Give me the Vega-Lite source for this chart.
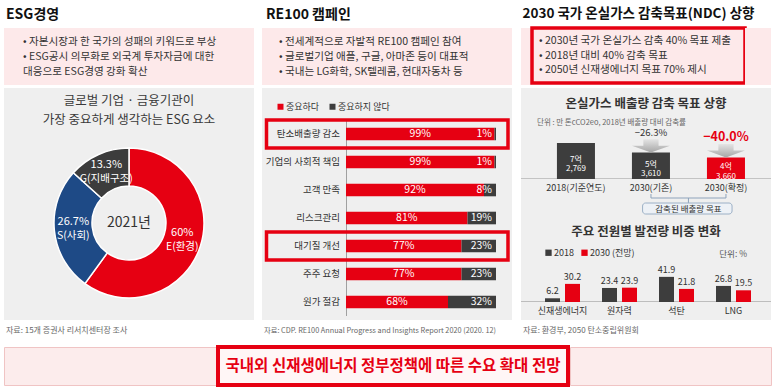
{
  "$schema": "https://vega.github.io/schema/vega-lite/v6.json",
  "background": "#ffffff",
  "padding": {"left": 3, "top": 6, "right": 0, "bottom": 0},
  "config": {
    "font": "Noto Sans CJK KR",
    "view": {"stroke": null},
    "text": {"font": "Noto Sans CJK KR"},
    "title": {"font": "Noto Sans CJK KR"},
    "legend": {"labelFont": "Noto Sans CJK KR"}
  },
  "datasets": {
    "esg": [
      {"k": "E(환경)", "v": 0.6, "o": 1},
      {"k": "S(사회)", "v": 0.267, "o": 2},
      {"k": "G(지배구조)", "v": 0.133, "o": 3}
    ],
    "re100": [
      {"cat": "탄소배출량 감소", "type": "중요하다", "v": 0.99},
      {"cat": "탄소배출량 감소", "type": "중요하지 않다", "v": 0.01},
      {"cat": "기업의 사회적 책임", "type": "중요하다", "v": 0.99},
      {"cat": "기업의 사회적 책임", "type": "중요하지 않다", "v": 0.01},
      {"cat": "고객 만족", "type": "중요하다", "v": 0.92},
      {"cat": "고객 만족", "type": "중요하지 않다", "v": 0.08},
      {"cat": "리스크관리", "type": "중요하다", "v": 0.81},
      {"cat": "리스크관리", "type": "중요하지 않다", "v": 0.19},
      {"cat": "대기질 개선", "type": "중요하다", "v": 0.77},
      {"cat": "대기질 개선", "type": "중요하지 않다", "v": 0.23},
      {"cat": "주주 요청", "type": "중요하다", "v": 0.77},
      {"cat": "주주 요청", "type": "중요하지 않다", "v": 0.23},
      {"cat": "원가 절감", "type": "중요하다", "v": 0.68},
      {"cat": "원가 절감", "type": "중요하지 않다", "v": 0.32}
    ],
    "ndc": [
      {"year": "2018(기준연도)", "v": 72769, "label": "7억\n2,769"},
      {"year": "2030(기존)", "v": 53610, "label": "5억\n3,610", "chg": -0.263},
      {"year": "2030(확정)", "v": 43660, "label": "4억\n3,660", "chg": -0.4}
    ],
    "mix": [
      {"src": "신재생에너지", "yr": "2018", "v": 6.2},
      {"src": "신재생에너지", "yr": "2030 (전망)", "v": 30.2},
      {"src": "원자력", "yr": "2018", "v": 23.4},
      {"src": "원자력", "yr": "2030 (전망)", "v": 23.9},
      {"src": "석탄", "yr": "2018", "v": 41.9},
      {"src": "석탄", "yr": "2030 (전망)", "v": 21.8},
      {"src": "LNG", "yr": "2018", "v": 26.8},
      {"src": "LNG", "yr": "2030 (전망)", "v": 19.5}
    ]
  },
  "spacing": 6,
  "resolve": {"scale": {"color": "independent", "x": "independent", "y": "independent", "theta": "independent", "xOffset": "independent"}, "legend": {"color": "independent"}},
  "vconcat": [
    {
      "spacing": 8,
      "resolve": {"scale": {"color": "independent", "x": "independent", "y": "independent", "theta": "independent", "xOffset": "independent"}, "legend": {"color": "independent"}},
      "hconcat": [
        {
          "title": {"text": "ESG경영", "anchor": "start", "fontSize": 14, "fontWeight": "bold", "color": "#111111", "offset": 6, "dx": 2},
          "spacing": 3,
          "resolve": {"scale": {"color": "independent", "x": "independent", "y": "independent", "theta": "independent"}, "legend": {"color": "independent"}},
          "vconcat": [
            {
              "width": 250, "height": 57,
              "view": {"fill": "#fde9ea", "stroke": null},
              "data": {"values": [
                {"n": 1, "t": "• 자본시장과 한 국가의 성패의 키워드로 부상"},
                {"n": 2, "t": "• ESG공시 의무화로 외국계 투자자금에 대한"},
                {"n": 3, "t": "\u00a0\u00a0\u00a0대응으로 ESG경영 강화 확산"}
              ]},
              "mark": {"type": "text", "align": "left", "fontSize": 10.6, "color": "#333333"},
              "encoding": {
                "x": {"value": 19},
                "y": {"field": "n", "type": "ordinal", "axis": null, "scale": {"type": "point", "padding": 0.9}},
                "text": {"field": "t"}
              }
            },
            {
              "spacing": 0,
              "bounds": "flush",
              "resolve": {"scale": {"color": "independent", "x": "independent", "y": "independent", "theta": "independent"}, "legend": {"color": "independent"}},
              "vconcat": [
                {
                  "width": 250, "height": 38,
                  "view": {"fill": "#efefef", "stroke": null},
                  "data": {"values": [
                    {"n": 1, "t": "글로벌 기업 · 금융기관이"},
                    {"n": 2, "t": "가장 중요하게 생각하는 ESG 요소"}
                  ]},
                  "mark": {"type": "text", "fontSize": 12.5, "color": "#3a3a3a"},
                  "encoding": {
                    "y": {"field": "n", "type": "ordinal", "axis": null, "scale": {"type": "point", "padding": 0.5, "align": 0.684}},
                    "text": {"field": "t"}
                  }
                },
                {
                  "width": 250, "height": 194,
                  "view": {"fill": "#efefef", "stroke": null},
                  "layer": [
                    {
                      "data": {"name": "esg"},
                      "mark": {"type": "arc", "radius": 75, "radius2": 37, "stroke": "#ffffff", "strokeWidth": 1.5},
                      "encoding": {
                        "theta": {"field": "v", "type": "quantitative", "stack": true},
                        "order": {"field": "o", "type": "quantitative"},
                        "color": {"field": "k", "type": "nominal", "legend": null,
                          "scale": {"domain": ["E(환경)", "S(사회)", "G(지배구조)"], "range": ["#e60012", "#1e4a86", "#3c3c3c"]}}
                      }
                    },
                    {
                      "data": {"name": "esg"},
                      "mark": {"type": "text", "radius": 56, "dy": -7, "fontSize": 11, "color": "#ffffff"},
                      "encoding": {
                        "theta": {"field": "v", "type": "quantitative", "stack": true},
                        "order": {"field": "o", "type": "quantitative"},
                        "detail": {"field": "k"},
                        "text": {"field": "v", "type": "quantitative", "format": ".1~%"}
                      }
                    },
                    {
                      "data": {"name": "esg"},
                      "mark": {"type": "text", "radius": 56, "dy": 7, "fontSize": 10.5, "color": "#ffffff"},
                      "encoding": {
                        "theta": {"field": "v", "type": "quantitative", "stack": true},
                        "order": {"field": "o", "type": "quantitative"},
                        "detail": {"field": "k"},
                        "text": {"field": "k"}
                      }
                    },
                    {
                      "data": {"values": [{"yr": "2021년"}]},
                      "mark": {"type": "text", "fontSize": 14, "color": "#333333"},
                      "encoding": {"text": {"field": "yr"}}
                    }
                  ]
                }
              ]
            },
            {
              "width": 250, "height": 16,
              "data": {"values": [{"t": "자료: 15개 증권사 리서치센터장 조사"}]},
              "mark": {"type": "text", "align": "left", "fontSize": 8, "color": "#666666"},
              "encoding": {"x": {"value": 2}, "text": {"field": "t"}}
            }
          ]
        },
        {
          "title": {"text": "RE100 캠페인", "anchor": "start", "fontSize": 14, "fontWeight": "bold", "color": "#111111", "offset": 6, "dx": 4},
          "spacing": 3,
          "resolve": {"scale": {"color": "independent", "x": "independent", "y": "independent"}, "legend": {"color": "independent"}},
          "vconcat": [
            {
              "width": 250, "height": 57,
              "view": {"fill": "#fde9ea", "stroke": null},
              "data": {"values": [
                {"n": 1, "t": "• 전세계적으로 자발적 RE100 캠페인 참여"},
                {"n": 2, "t": "• 글로벌기업 애플, 구글, 아마존 등이 대표적"},
                {"n": 3, "t": "• 국내는 LG화학, SK텔레콤, 현대자동차 등"}
              ]},
              "mark": {"type": "text", "align": "left", "fontSize": 10.6, "color": "#333333"},
              "encoding": {
                "x": {"value": 17},
                "y": {"field": "n", "type": "ordinal", "axis": null, "scale": {"type": "point", "padding": 0.9}},
                "text": {"field": "t"}
              }
            },
            {
              "width": 250, "height": 232,
              "view": {"fill": "#efefef", "stroke": null},
              "data": {"name": "re100"},
              "encoding": {
                "y": {"field": "cat", "type": "nominal", "axis": null, "sort": null,
                  "scale": {"domain": ["탄소배출량 감소", "기업의 사회적 책임", "고객 만족", "리스크관리", "대기질 개선", "주주 요청", "원가 절감"],
                    "paddingInner": 0, "paddingOuter": 0.643, "align": 0.889}}
              },
              "layer": [
                {
                  "transform": [{"filter": "datum.type === '중요하다'"}],
                  "mark": {"type": "rect", "color": "#a0a0a0"},
                  "encoding": {
                    "x": {"datum": 0, "type": "quantitative", "axis": null, "scale": {"domain": [-0.56, 1.1067], "nice": false, "zero": false}},
                    "x2": {"datum": 0.0067}
                  }
                },
                {
                  "mark": {"type": "bar", "height": {"band": 0.45}},
                  "encoding": {
                    "x": {"field": "v", "type": "quantitative", "stack": "zero", "axis": null},
                    "order": {"field": "type", "sort": "ascending"},
                    "color": {"field": "type", "type": "nominal",
                      "scale": {"domain": ["중요하다", "중요하지 않다"], "range": ["#e60012", "#3d3d3d"]},
                      "legend": {"orient": "top-left", "offset": 14, "padding": 0, "direction": "horizontal", "title": null,
                        "symbolType": "square", "symbolSize": 36, "symbolStrokeWidth": 0, "labelFontSize": 9, "labelColor": "#333333",
                        "columnPadding": 8, "labelOffset": 1}}
                  }
                },
                {
                  "transform": [{"filter": "datum.type === '중요하다' && (datum.cat === '탄소배출량 감소' || datum.cat === '대기질 개선')"}],
                  "mark": {"type": "rect", "filled": false, "stroke": "#e60012", "strokeWidth": 3.5},
                  "encoding": {
                    "x": {"datum": -0.53, "type": "quantitative"},
                    "x2": {"datum": 1.08}
                  }
                },
                {
                  "transform": [{"filter": "datum.type === '중요하다'"}],
                  "mark": {"type": "text", "color": "#ffffff", "fontSize": 10.5},
                  "encoding": {
                    "x": {"field": "v", "type": "quantitative", "stack": "zero", "bandPosition": 0.5},
                    "text": {"field": "v", "type": "quantitative", "format": ".0%"}
                  }
                },
                {
                  "transform": [{"filter": "datum.type === '중요하지 않다'"}],
                  "mark": {"type": "text", "color": "#ffffff", "fontSize": 10.5, "align": "right", "dx": -4},
                  "encoding": {
                    "x": {"datum": 1, "type": "quantitative"},
                    "text": {"field": "v", "type": "quantitative", "format": ".0%"}
                  }
                },
                {
                  "transform": [{"filter": "datum.type === '중요하다'"}],
                  "mark": {"type": "text", "color": "#333333", "fontSize": 9.5, "align": "right", "dx": -6},
                  "encoding": {
                    "x": {"datum": 0, "type": "quantitative"},
                    "text": {"field": "cat"}
                  }
                }
              ]
            },
            {
              "width": 250, "height": 16,
              "data": {"values": [{"t": "자료: CDP. RE100 Annual Progress and Insights Report 2020 (2020. 12)"}]},
              "mark": {"type": "text", "align": "left", "fontSize": 7.3, "color": "#666666"},
              "encoding": {"x": {"value": 2}, "text": {"field": "t"}}
            }
          ]
        },
        {
          "title": {"text": "2030 국가 온실가스 감축목표(NDC) 상향", "anchor": "start", "fontSize": 13.5, "fontWeight": "bold", "color": "#111111", "offset": 6, "dx": 2},
          "spacing": 3,
          "resolve": {"scale": {"color": "independent", "x": "independent", "y": "independent", "xOffset": "independent"}, "legend": {"color": "independent"}},
          "vconcat": [
            {
              "spacing": 0,
              "bounds": "flush",
              "hconcat": [
                {
                  "width": 11, "height": 57,
                  "view": {"fill": "#fde9ea", "stroke": null},
                  "data": {"values": [{}]},
                  "mark": {"type": "text", "text": " "}
                },
                {
                  "width": 213, "height": 55,
                  "view": {"fill": "#fde9ea", "stroke": "#e60012", "strokeWidth": 3.5},
                  "data": {"values": [
                    {"n": 1, "t": "• 2030년 국가 온실가스 감축 40% 목표 제출"},
                    {"n": 2, "t": "• 2018년 대비 40% 감축 목표"},
                    {"n": 3, "t": "• 2050년 신재생에너지 목표 70% 제시"}
                  ]},
                  "mark": {"type": "text", "align": "left", "fontSize": 10.6, "color": "#333333"},
                  "encoding": {
                    "x": {"value": 7},
                    "y": {"field": "n", "type": "ordinal", "axis": null, "scale": {"type": "point", "padding": 0.85}},
                    "text": {"field": "t"}
                  }
                },
                {
                  "width": 26, "height": 57,
                  "view": {"fill": "#fde9ea", "stroke": null},
                  "data": {"values": [{}]},
                  "mark": {"type": "text", "text": " "}
                }
              ]
            },
            {
              "spacing": 0,
              "bounds": "flush",
              "resolve": {"scale": {"color": "independent", "x": "independent", "y": "independent", "xOffset": "independent"}, "legend": {"color": "independent"}},
              "vconcat": [
                {
                  "width": 250, "height": 42,
                  "view": {"fill": "#efefef", "stroke": null},
                  "layer": [
                    {
                      "data": {"values": [{"t": "온실가스 배출량 감축 목표 상향"}]},
                      "mark": {"type": "text", "fontSize": 12.5, "fontWeight": "bold", "color": "#333333"},
                      "encoding": {"y": {"value": 16}, "text": {"field": "t"}}
                    },
                    {
                      "data": {"values": [{"t": "단위 : 만 톤cCO2eo, 2018년 배출량 대비 감축률"}]},
                      "mark": {"type": "text", "fontSize": 7.5, "color": "#666666", "align": "left"},
                      "encoding": {"x": {"value": 16}, "y": {"value": 35}, "text": {"field": "t"}}
                    }
                  ]
                },
                {
                  "width": 250, "height": 49,
                  "view": {"fill": "#efefef", "stroke": null},
                  "data": {"name": "ndc"},
                  "layer": [
                    {
                      "mark": {"type": "rule", "color": "#bdbdbd", "strokeWidth": 1},
                      "encoding": {"y": {"datum": 0, "type": "quantitative", "axis": null, "scale": {"domain": [0, 99000], "nice": false}}}
                    },
                    {
                      "mark": {"type": "bar"},
                      "encoding": {
                        "x": {"field": "year", "type": "nominal", "axis": null, "sort": null,
                          "scale": {"type": "band", "domain": ["2018(기준연도)", "2030(기존)", "2030(확정)"], "paddingInner": 0.493, "paddingOuter": 0.413, "align": 0.58}},
                        "y": {"field": "v", "type": "quantitative"},
                        "color": {"field": "year", "type": "nominal", "legend": null,
                          "scale": {"domain": ["2018(기준연도)", "2030(기존)", "2030(확정)"], "range": ["#3d3d3d", "#3d3d3d", "#e60012"]}}
                      }
                    },
                    {
                      "mark": {"type": "text", "color": "#ffffff", "fontSize": 8, "lineBreak": "\n", "lineHeight": 9.5, "dy": -1},
                      "encoding": {
                        "x": {"field": "year", "type": "nominal"},
                        "y": {"field": "v", "type": "quantitative", "stack": "zero", "bandPosition": 0.5},
                        "text": {"field": "label"}
                      }
                    },
                    {
                      "transform": [{"filter": "isValid(datum.chg)"}],
                      "mark": {"type": "point", "shape": "M-0.4,-0.7L0.4,-0.7L0.4,-0.36L1,-0.36L0,0L-1,-0.36L-0.4,-0.36Z",
                        "size": 1444, "filled": true, "opacity": 1, "strokeWidth": 0,
                        "fill": {"gradient": "linear", "x1": 0, "y1": 0, "x2": 0, "y2": 1,
                          "stops": [{"offset": 0, "color": "#e4e4e4"}, {"offset": 1, "color": "#a6a6a6"}]}},
                      "encoding": {
                        "x": {"field": "year", "type": "nominal"},
                        "y": {"field": "v", "type": "quantitative"}
                      }
                    },
                    {
                      "transform": [{"filter": "datum.year === '2030(기존)'"}],
                      "mark": {"type": "text", "fontSize": 9.5, "color": "#333333", "dy": -19},
                      "encoding": {
                        "x": {"field": "year", "type": "nominal"},
                        "y": {"field": "v", "type": "quantitative"},
                        "text": {"field": "chg", "type": "quantitative", "format": ".1%"}
                      }
                    },
                    {
                      "transform": [{"filter": "datum.year === '2030(확정)'"}],
                      "mark": {"type": "text", "fontSize": 12.5, "fontWeight": "bold", "color": "#e60012", "dy": -20},
                      "encoding": {
                        "x": {"field": "year", "type": "nominal"},
                        "y": {"field": "v", "type": "quantitative"},
                        "text": {"field": "chg", "type": "quantitative", "format": ".1%"}
                      }
                    }
                  ]
                },
                {
                  "width": 250, "height": 15,
                  "view": {"fill": "#efefef", "stroke": null},
                  "data": {"name": "ndc"},
                  "mark": {"type": "text", "fontSize": 9, "color": "#333333", "dy": 1},
                  "encoding": {
                    "x": {"field": "year", "type": "nominal", "axis": null, "sort": null,
                      "scale": {"type": "band", "domain": ["2018(기준연도)", "2030(기존)", "2030(확정)"], "paddingInner": 0.493, "paddingOuter": 0.413, "align": 0.58}},
                    "text": {"field": "year"}
                  }
                },
                {
                  "width": 250, "height": 22,
                  "view": {"fill": "#efefef", "stroke": null},
                  "data": {"name": "ndc"},
                  "layer": [
                    {
                      "transform": [{"filter": "datum.year === '2030(기존)'"}],
                      "mark": {"type": "rule", "color": "#8ea3bb", "strokeWidth": 1},
                      "encoding": {
                        "x": {"datum": "2030(기존)", "type": "nominal", "bandPosition": 0.5, "axis": null,
                          "scale": {"type": "band", "domain": ["2018(기준연도)", "2030(기존)", "2030(확정)"], "paddingInner": 0.493, "paddingOuter": 0.413, "align": 0.58}},
                        "x2": {"datum": "2030(확정)", "bandPosition": 0.5},
                        "y": {"value": 4}
                      }
                    },
                    {
                      "transform": [{"filter": "isValid(datum.chg)"}],
                      "mark": {"type": "rule", "color": "#8ea3bb", "strokeWidth": 1},
                      "encoding": {
                        "x": {"field": "year", "type": "nominal", "bandPosition": 0.5},
                        "y": {"value": 0},
                        "y2": {"value": 4}
                      }
                    },
                    {
                      "transform": [{"filter": "datum.year === '2030(기존)'"}],
                      "mark": {"type": "rule", "color": "#8ea3bb", "strokeWidth": 1},
                      "encoding": {
                        "x": {"datum": "2030(기존)", "type": "nominal", "bandPosition": 1.486},
                        "y": {"value": 4},
                        "y2": {"value": 9}
                      }
                    },
                    {
                      "transform": [{"filter": "datum.year === '2030(기존)'"}],
                      "mark": {"type": "rect", "fill": "#edf1f6", "stroke": "#9cb0c6", "strokeWidth": 1, "cornerRadius": 3},
                      "encoding": {
                        "x": {"datum": "2030(기존)", "type": "nominal", "bandPosition": 0.28},
                        "x2": {"datum": "2030(확정)", "bandPosition": 0.66},
                        "y": {"value": 9},
                        "y2": {"value": 20}
                      }
                    },
                    {
                      "transform": [{"filter": "datum.year === '2030(기존)'"}],
                      "mark": {"type": "text", "fontSize": 8.5, "color": "#333333"},
                      "encoding": {
                        "x": {"datum": "2030(기존)", "type": "nominal", "bandPosition": 1.486},
                        "y": {"value": 14.5},
                        "text": {"value": "감축된 배출량 목표"}
                      }
                    }
                  ]
                },
                {
                  "width": 250, "height": 28,
                  "view": {"fill": "#efefef", "stroke": null},
                  "data": {"values": [{"t": "주요 전원별 발전량 비중 변화"}]},
                  "mark": {"type": "text", "fontSize": 12.5, "fontWeight": "bold", "color": "#333333", "dy": 2},
                  "encoding": {"text": {"field": "t"}}
                },
                {
                  "width": 250, "height": 58,
                  "view": {"fill": "#efefef", "stroke": null},
                  "layer": [
                    {
                      "data": {"name": "mix"},
                      "mark": {"type": "rule", "color": "#bdbdbd", "strokeWidth": 1},
                      "encoding": {"y": {"datum": 0, "type": "quantitative", "axis": null, "scale": {"domain": [0, 96.7], "nice": false}}}
                    },
                    {
                      "data": {"name": "mix"},
                      "mark": {"type": "bar"},
                      "encoding": {
                        "x": {"field": "src", "type": "nominal", "axis": null, "sort": null,
                          "scale": {"type": "band", "domain": ["신재생에너지", "원자력", "석탄", "LNG"], "paddingInner": 0.386, "paddingOuter": 0.386, "align": 0.545}},
                        "xOffset": {"field": "yr", "type": "nominal", "sort": null,
                          "scale": {"type": "band", "domain": ["2018", "2030 (전망)"], "paddingInner": 0.25, "paddingOuter": 0}},
                        "y": {"field": "v", "type": "quantitative"},
                        "color": {"field": "yr", "type": "nominal",
                          "scale": {"domain": ["2018", "2030 (전망)"], "range": ["#3d3d3d", "#e60012"]},
                          "legend": {"orient": "none", "legendX": 23, "legendY": 4, "padding": 0, "direction": "horizontal", "title": null,
                            "symbolType": "square", "symbolSize": 40, "symbolStrokeWidth": 0, "labelFontSize": 9, "labelColor": "#333333",
                            "columnPadding": 6, "labelOffset": 1}}
                      }
                    },
                    {
                      "data": {"name": "mix"},
                      "mark": {"type": "text", "fontSize": 9, "color": "#333333", "dy": -7},
                      "encoding": {
                        "x": {"field": "src", "type": "nominal"},
                        "xOffset": {"field": "yr", "type": "nominal", "sort": null},
                        "y": {"field": "v", "type": "quantitative"},
                        "text": {"field": "v", "type": "quantitative", "format": ".1f"}
                      }
                    },
                    {
                      "data": {"values": [{"t": "단위: %"}]},
                      "mark": {"type": "text", "fontSize": 8.5, "color": "#555555", "align": "right"},
                      "encoding": {"x": {"value": 226}, "y": {"value": 10}, "text": {"field": "t"}}
                    }
                  ]
                },
                {
                  "width": 250, "height": 18,
                  "view": {"fill": "#efefef", "stroke": null},
                  "data": {"name": "mix"},
                  "transform": [{"filter": "datum.yr === '2018'"}],
                  "mark": {"type": "text", "fontSize": 9, "color": "#333333"},
                  "encoding": {
                    "x": {"field": "src", "type": "nominal", "axis": null, "sort": null,
                      "scale": {"type": "band", "domain": ["신재생에너지", "원자력", "석탄", "LNG"], "paddingInner": 0.386, "paddingOuter": 0.386, "align": 0.545}},
                    "text": {"field": "src"}
                  }
                }
              ]
            },
            {
              "width": 250, "height": 16,
              "data": {"values": [{"t": "자료: 환경부, 2050 탄소중립위원회"}]},
              "mark": {"type": "text", "align": "left", "fontSize": 8, "color": "#666666"},
              "encoding": {"x": {"value": 2}, "text": {"field": "t"}}
            }
          ]
        }
      ]
    },
    {
      "spacing": 2,
      "bounds": "flush",
      "hconcat": [
        {
          "width": 212, "height": 38,
          "view": {"fill": "#fcecec", "stroke": "#f0c4c4"},
          "data": {"values": [{}]},
          "mark": {"type": "text", "text": " "}
        },
        {
          "width": 350, "height": 38,
          "view": {"fill": "#fff6f6", "stroke": "#e60012", "strokeWidth": 4},
          "data": {"values": [{"t": "국내외 신재생에너지 정부정책에 따른 수요 확대 전망"}]},
          "mark": {"type": "text", "fontSize": 15.5, "fontWeight": "bold", "color": "#e60012"},
          "encoding": {"text": {"field": "t"}}
        },
        {
          "width": 201, "height": 38,
          "view": {"fill": "#fcecec", "stroke": "#f0c4c4"},
          "data": {"values": [{}]},
          "mark": {"type": "text", "text": " "}
        }
      ]
    }
  ]
}
